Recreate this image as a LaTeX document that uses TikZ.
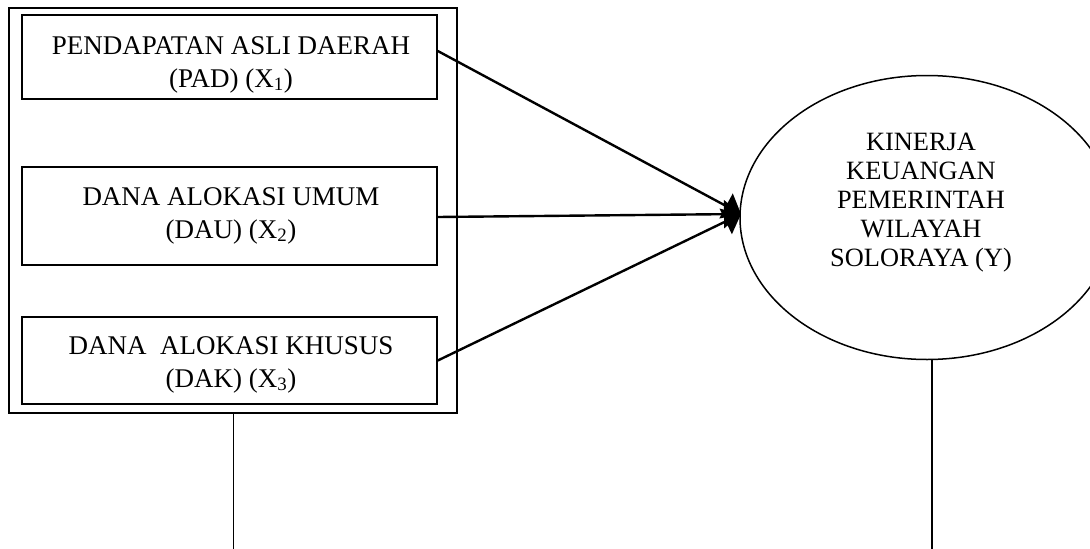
\documentclass[tikz,border=0pt]{standalone}
\usepackage{fontspec}
\setmainfont{Liberation Serif}
\usetikzlibrary{shapes.geometric,arrows.meta}
\begin{document}
\begin{tikzpicture}[x=1pt,y=-1pt,
  every node/.style={font=\fontsize{27}{30}\selectfont},
  varbox/.style={draw,line width=1.6pt,rectangle,inner sep=0pt,minimum width=415pt},
  framebox/.style={draw,line width=2pt,rectangle,inner sep=0pt,minimum width=448pt,minimum height=405pt},
  latent/.style={draw,line width=1.5pt,ellipse,inner sep=0pt,minimum width=374pt,minimum height=284pt},
  lbl/.style={anchor=base,inner sep=0pt},
  link/.style={line width=2.4pt,-{Triangle[length=17pt,width=28pt]}},
  stem/.style={line width=1pt},
  stemb/.style={line width=2pt}]
\useasboundingbox (0,0) rectangle (1090,549);
\clip (0,0) rectangle (1090,549);
\fill[white] (0,0) rectangle (1090,549);
% frame and boxes
\node[framebox] (outer) at (233,210) {};
\node[varbox,minimum height=84pt] (pad) at (229.5,57) {};
\node[varbox,minimum height=98pt] (dau) at (229.5,216) {};
\node[varbox,minimum height=87pt] (dak) at (229.5,360.5) {};
% labels
\node[lbl] (pad1) at (231,54) {PENDAPATAN ASLI DAERAH};
\node[lbl] (pad2) at (231,87) {(PAD) (X\textsubscript{1})};
\node[lbl] (dau1) at (231,205) {DANA ALOKASI UMUM};
\node[lbl] (dau2) at (231,238) {(DAU) (X\textsubscript{2})};
\node[lbl] (dak1) at (231,354) {DANA\ \ ALOKASI KHUSUS};
\node[lbl] (dak2) at (231,387) {(DAK) (X\textsubscript{3})};
% latent variable
\node[latent] (y) at (927,217.5) {};
\begin{scope}[every node/.style={font=\fontsize{26.4}{30}\selectfont}]
\node[lbl] (y1) at (921,150.5) {KINERJA};
\node[lbl] (y2) at (921,179.5) {KEUANGAN};
\node[lbl] (y3) at (921,208.5) {PEMERINTAH};
\node[lbl] (y4) at (921,237.5) {WILAYAH};
\node[lbl] (y5) at (921,266.5) {SOLORAYA (Y)};
\end{scope}
% arrows
\coordinate (tip) at (741,214);
\draw[link] ([yshift=6pt]pad.east) -- (tip);
\draw[link] ([yshift=-1pt]dau.east) -- (tip);
\draw[link] (dak.east) -- (tip);
% stems
\coordinate (lb) at (233,549);
\coordinate (rb) at (932,549);
\draw[stem] (outer.south) -- (lb);
\draw[stemb] (y.south -| rb) -- (rb);
\end{tikzpicture}
\end{document}
